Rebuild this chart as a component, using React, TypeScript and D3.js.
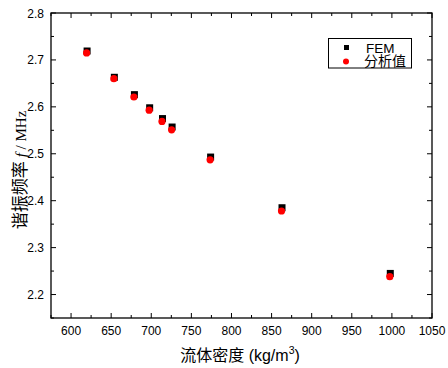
import React from "react";
import * as d3 from "d3";

const densities = [620, 654, 679, 698, 714, 726, 774, 863, 998];
const femValues = [2.719, 2.663, 2.626, 2.598, 2.575, 2.557, 2.493, 2.385, 2.245];
const analyticValues = [2.715, 2.660, 2.621, 2.593, 2.569, 2.551, 2.487, 2.378, 2.238];
const xTicks = [600, 650, 700, 750, 800, 850, 900, 950, 1000, 1050];
const yTicks = [2.2, 2.3, 2.4, 2.5, 2.6, 2.7, 2.8];
const seriesNames = ["FEM", "分析值"];

const W = 448, H = 368;
const L = 51, R = 432, T = 13, B = 318;

export default function App() {
  const x = d3.scaleLinear().domain([575, 1050]).range([L, R]);
  const y = d3.scaleLinear().domain([2.15, 2.8]).range([B, T]);
  const xMinor = d3.range(575, 1051, 25).filter((v) => !xTicks.includes(v));
  const yMinor = d3.range(2.15, 2.8001, 0.05).map((v) => +v.toFixed(2)).filter((v) => !yTicks.includes(v));
  const tickFont = "'Liberation Sans', Arial, sans-serif";
  const cjk = "'Noto Sans CJK SC', sans-serif";
  return (
    <svg width={W} height={H} style={{ position: "absolute", left: 0, top: 0, background: "#fff" }}>
      <rect x={0} y={0} width={W} height={H} fill="#fff" />
      {xTicks.map((v) => (
        <g key={"xt" + v}>
          <line x1={x(v)} x2={x(v)} y1={B} y2={B - 5} stroke="#000" strokeWidth={1} />
          <line x1={x(v)} x2={x(v)} y1={T} y2={T + 5} stroke="#000" strokeWidth={1} />
          <text x={x(v)} y={335} textAnchor="middle" fontFamily={tickFont} fontSize={12} fill="#000">{v}</text>
        </g>
      ))}
      {xMinor.map((v) => (
        <g key={"xm" + v}>
          <line x1={x(v)} x2={x(v)} y1={B} y2={B - 3} stroke="#000" strokeWidth={1} />
          <line x1={x(v)} x2={x(v)} y1={T} y2={T + 3} stroke="#000" strokeWidth={1} />
        </g>
      ))}
      {yTicks.map((v) => (
        <g key={"yt" + v}>
          <line x1={L} x2={L + 5} y1={y(v)} y2={y(v)} stroke="#000" strokeWidth={1} />
          <line x1={R} x2={R - 5} y1={y(v)} y2={y(v)} stroke="#000" strokeWidth={1} />
          <text x={44} y={y(v) + 4.5} textAnchor="end" fontFamily={tickFont} fontSize={12} fill="#000">{v.toFixed(1)}</text>
        </g>
      ))}
      {yMinor.map((v) => (
        <g key={"ym" + v}>
          <line x1={L} x2={L + 3} y1={y(v)} y2={y(v)} stroke="#000" strokeWidth={1} />
          <line x1={R} x2={R - 3} y1={y(v)} y2={y(v)} stroke="#000" strokeWidth={1} />
        </g>
      ))}
      <rect x={L} y={T} width={R - L} height={B - T} fill="none" stroke="#000" strokeWidth={1.3} />
      {densities.map((d, i) => (
        <rect key={"f" + i} x={x(d) - 3.5} y={y(femValues[i]) - 3.5} width={7} height={7} fill="#000" />
      ))}
      {densities.map((d, i) => (
        <circle key={"a" + i} cx={x(d) - 0.5} cy={y(analyticValues[i])} r={3.6} fill="#ff0000" />
      ))}
      {/* legend */}
      <rect x={328.5} y={38.5} width={83} height={29.5} fill="#fff" stroke="#000" strokeWidth={1} />
      <rect x={344} y={45} width={5} height={5} fill="#000" />
      <circle cx={346} cy={61.5} r={3} fill="#ff0000" />
      <text x={366} y={52.5} fontFamily={tickFont} fontSize={13.5} fill="#000">{seriesNames[0]}</text>
      <text x={364} y={65.5} fontFamily={cjk} fontSize={14} fill="#000">{seriesNames[1]}</text>
      {/* axis titles */}
      <text x={240} y={361} textAnchor="middle" fontSize={16} fill="#000">
        <tspan fontFamily={cjk}>流体密度</tspan>
        <tspan fontFamily={tickFont}> (kg/m</tspan>
        <tspan fontFamily={tickFont} fontSize={10.5} dy={-7}>3</tspan>
        <tspan fontFamily={tickFont} dy={7}>)</tspan>
      </text>
      <text transform={`translate(26,170) rotate(-90)`} textAnchor="middle" fill="#000">
        <tspan fontFamily={cjk} fontSize={17}>谐振频率</tspan>
        <tspan fontFamily="'Liberation Serif', serif" fontSize={15} fontStyle="italic" dx={4}>f</tspan>
        <tspan fontFamily="'Liberation Serif', serif" fontSize={15}> / MHz</tspan>
      </text>
    </svg>
  );
}
